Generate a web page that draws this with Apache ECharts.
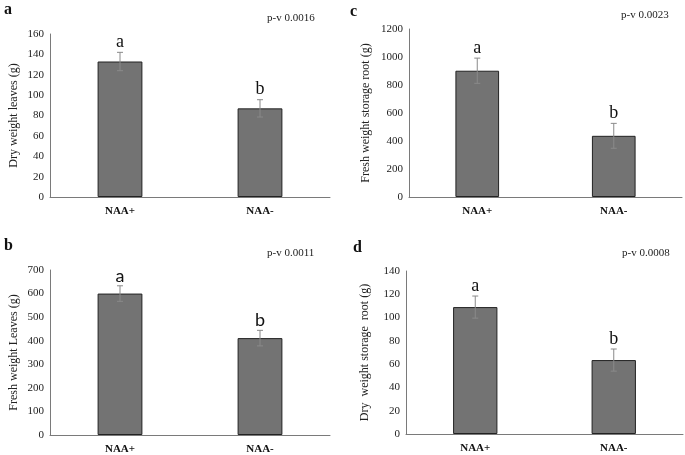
<!DOCTYPE html>
<html><head><meta charset="utf-8">
<script src="https://cdn.jsdelivr.net/npm/echarts@6/dist/echarts.min.js"></script>
<style>html,body{margin:0;padding:0;background:#fff}#c{width:685px;height:455px}</style>
</head><body><div id="c"></div>
<script>
var categories = ['NAA+', 'NAA-'];
var letters = ['a', 'b'];
var panelLabels = ['a', 'c', 'b', 'd'];
var pValues = ['p-v 0.0016', 'p-v 0.0023', 'p-v 0.0011', 'p-v 0.0008'];
var yTitles = ['Dry weight leaves (g)', 'Fresh weight storage root (g)', 'Fresh weight Leaves (g)', 'Dry  weight storage  root (g)'];
var yMax = [160, 1200, 700, 140];
var yInterval = [20, 200, 100, 20];
var meanA = [133, 87];
var errA = [9, 8.5];
var meanC = [902, 437];
var errC = [90, 89];
var meanB = [600, 411];
var errB = [33, 33];
var meanD = [109, 63.5];
var errD = [9.5, 9.5];

var means = [meanA, meanC, meanB, meanD];
var errs = [errA, errC, errB, errD];
var letterFonts = ['Liberation Serif', 'Liberation Serif', 'Lato', 'Liberation Serif'];

var grids = [
  {left: 50, top: 34, width: 280, height: 163},
  {left: 409, top: 29, width: 273, height: 168},
  {left: 50, top: 270, width: 280, height: 165},
  {left: 406, top: 271, width: 277, height: 163}
];
var nameGaps = [30, 37, 30, 35];
var labelPos = [[4, 2], [350, 4], [4, 238], [353, 240]];
var pPos = [[267, 13], [621, 10], [267, 248], [622, 248]];

var xAxes = [], yAxes = [], series = [], titles = [];
for (var i = 0; i < 4; i++) {
  xAxes.push({
    type: 'category', gridIndex: i, data: categories,
    axisLine: {lineStyle: {color: '#7a7a7a', width: 1}},
    axisTick: {show: false},
    axisLabel: {fontFamily: 'Liberation Serif', fontWeight: 'bold', fontSize: 11, color: '#111', margin: 9}
  });
  yAxes.push({
    type: 'value', gridIndex: i, min: 0, max: yMax[i], interval: yInterval[i],
    name: yTitles[i], nameLocation: 'middle', nameGap: nameGaps[i],
    nameTextStyle: {fontFamily: 'Liberation Serif', fontSize: 12, color: '#222'},
    axisLine: {show: true, lineStyle: {color: '#7a7a7a', width: 1}},
    axisTick: {show: false},
    splitLine: {show: false},
    axisLabel: {fontFamily: 'Liberation Serif', fontSize: 11, color: '#222', margin: 6,
      formatter: function (v) { return String(v); }}
  });
  series.push({
    type: 'bar', xAxisIndex: i, yAxisIndex: i, data: means[i], barWidth: '32%',
    itemStyle: {color: '#737373', borderColor: '#222', borderWidth: 1},
    silent: true
  });
  (function (idx) {
    var data = means[idx].map(function (m, k) { return [k, m, errs[idx][k]]; });
    series.push({
      type: 'custom', xAxisIndex: idx, yAxisIndex: idx, data: data, silent: true, z: 5,
      renderItem: function (params, api) {
        var k = api.value(0), m = api.value(1), e = api.value(2);
        var top = api.coord([k, m + e]);
        var bot = api.coord([k, m - e]);
        var cap = 3;
        var st = {stroke: '#8a8a8a', lineWidth: 1};
        return {type: 'group', children: [
          {type: 'line', shape: {x1: top[0], y1: top[1], x2: bot[0], y2: bot[1]}, style: st},
          {type: 'line', shape: {x1: top[0] - cap, y1: top[1], x2: top[0] + cap, y2: top[1]}, style: st},
          {type: 'line', shape: {x1: bot[0] - cap, y1: bot[1], x2: bot[0] + cap, y2: bot[1]}, style: st},
          {type: 'text', style: {text: letters[k], x: top[0], y: top[1] - 1, textAlign: 'center', textVerticalAlign: 'bottom',
            font: '18px "' + letterFonts[idx] + '"', fill: '#111'}}
        ]};
      }
    });
  })(i);
  titles.push({text: panelLabels[i], left: labelPos[i][0], top: labelPos[i][1], padding: 0,
    textStyle: {fontFamily: 'Liberation Serif', fontWeight: 'bold', fontSize: 16, color: '#111'}});
  titles.push({text: pValues[i], left: pPos[i][0], top: pPos[i][1], padding: 0,
    textStyle: {fontFamily: 'Liberation Serif', fontWeight: 'normal', fontSize: 11, color: '#222'}});
}

var chart = echarts.init(document.getElementById('c'), null, {renderer: 'canvas'});
chart.setOption({
  animation: false,
  backgroundColor: '#fff',
  title: titles,
  grid: grids,
  xAxis: xAxes,
  yAxis: yAxes,
  series: series
});
</script></body></html>
